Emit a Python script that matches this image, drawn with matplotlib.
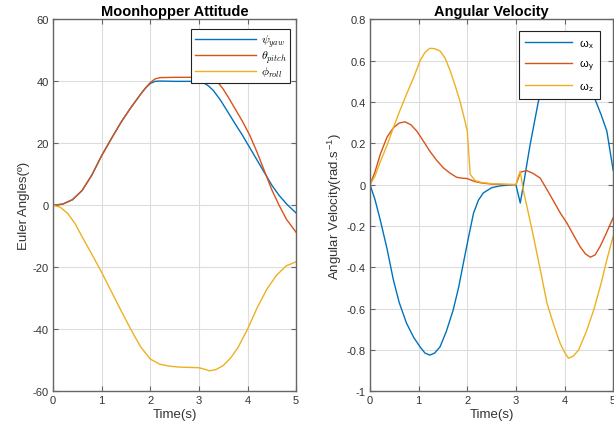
import numpy as np
import matplotlib
matplotlib.use('Agg')
import matplotlib.pyplot as plt

plt.rcParams['font.family'] = ['Liberation Sans', 'DejaVu Sans']
plt.rcParams['mathtext.fontset'] = 'cm'
plt.rcParams['axes.unicode_minus'] = False

# --- attitude (deg) ---
t_yaw = [0, 0.2, 0.4, 0.6, 0.8, 1.0, 1.2, 1.4, 1.6, 1.8, 1.9, 2.0, 2.1, 2.2, 2.5, 2.8, 3.0, 3.1,
         3.2, 3.3, 3.45, 3.6, 3.75, 3.9, 4.05, 4.2, 4.35, 4.5, 4.65, 4.8, 5.0]
yaw = [0, 0.4, 1.8, 4.8, 9.8, 16.0, 21.5, 26.8, 31.5, 35.8, 37.8, 39.3, 40.0, 40.1, 40.0, 40.0, 39.9, 39.5,
       38.5, 37.0, 33.8, 30.0, 26.2, 22.5, 18.5, 14.5, 10.5, 6.5, 3.2, 0.5, -2.5]

t_pitch = [0, 0.2, 0.4, 0.6, 0.8, 1.0, 1.2, 1.4, 1.6, 1.8, 1.9, 2.0, 2.1, 2.2, 2.5, 3.0, 3.2, 3.3,
           3.4, 3.5, 3.6, 3.75, 3.9, 4.05, 4.2, 4.35, 4.5, 4.65, 4.8, 5.0]
pitch = [0, 0.4, 1.8, 4.8, 9.8, 16.0, 21.5, 26.8, 31.5, 35.8, 37.8, 39.6, 40.8, 41.2, 41.3, 41.3, 41.2, 40.8,
         39.5, 37.5, 35.0, 31.0, 27.0, 22.5, 17.0, 11.0, 5.0, 0.0, -4.5, -8.7]

t_roll = [0, 0.15, 0.3, 0.45, 0.6, 0.8, 1.0, 1.2, 1.4, 1.6, 1.8, 2.0, 2.2, 2.4, 2.6, 2.8, 3.0, 3.1,
          3.22, 3.35, 3.5, 3.65, 3.8, 4.0, 4.2, 4.4, 4.6, 4.8, 5.0]
roll = [0, -0.6, -2.6, -5.8, -10.2, -15.8, -21.6, -27.8, -34.0, -40.0, -45.6, -49.6, -51.3, -51.9, -52.2,
        -52.3, -52.4, -52.8, -53.4, -53.0, -51.7, -49.3, -46.0, -40.0, -33.0, -27.0, -22.5, -19.5, -18.2]

# --- angular velocity (rad/s) ---
t_wx = [0, 0.1, 0.21, 0.35, 0.48, 0.6, 0.75, 0.9, 1.03, 1.13, 1.23, 1.33, 1.44, 1.57, 1.71, 1.82, 1.92,
        2.03, 2.13, 2.23, 2.33, 2.5, 2.67, 2.85, 3.0, 3.09, 3.17, 3.29, 3.46, 3.6, 3.8, 4.05, 4.3, 4.45,
        4.6, 4.75, 4.87, 5.0]
wx = [0, -0.07, -0.17, -0.31, -0.46, -0.57, -0.67, -0.74, -0.785, -0.815, -0.825, -0.815, -0.785, -0.71,
      -0.607, -0.50, -0.38, -0.25, -0.137, -0.075, -0.04, -0.015, -0.006, -0.002, 0.0, -0.089, 0.02, 0.19,
      0.40, 0.52, 0.62, 0.66, 0.62, 0.54, 0.43, 0.34, 0.26, 0.07]

t_wy = [0, 0.1, 0.21, 0.35, 0.48, 0.6, 0.72, 0.84, 0.96, 1.1, 1.23, 1.37, 1.51, 1.65, 1.78, 1.9, 1.99,
        2.08, 2.16, 2.3, 2.5, 2.75, 3.0, 3.05, 3.09, 3.22, 3.35, 3.5, 3.64, 3.8, 3.92, 4.05, 4.2, 4.32,
        4.43, 4.53, 4.63, 4.73, 4.85, 5.0]
wy = [0, 0.06, 0.146, 0.23, 0.275, 0.298, 0.304, 0.29, 0.26, 0.21, 0.162, 0.118, 0.081, 0.055, 0.036,
      0.031, 0.03, 0.022, 0.015, 0.008, 0.003, 0.001, 0.0, 0.03, 0.06, 0.068, 0.055, 0.032, -0.024, -0.09,
      -0.14, -0.186, -0.25, -0.30, -0.335, -0.351, -0.34, -0.30, -0.24, -0.16]

t_wz = [0, 0.1, 0.21, 0.35, 0.48, 0.6, 0.75, 0.9, 1.03, 1.13, 1.23, 1.33, 1.44, 1.55, 1.65, 1.75, 1.85,
        1.93, 2.0, 2.06, 2.16, 2.3, 2.5, 2.75, 3.0, 3.05, 3.09, 3.15, 3.25, 3.36, 3.5, 3.64, 3.78, 3.91,
        4.0, 4.08, 4.18, 4.29, 4.45, 4.6, 4.75, 4.87, 5.0]
wz = [0, 0.04, 0.11, 0.19, 0.275, 0.35, 0.437, 0.52, 0.60, 0.64, 0.66, 0.658, 0.647, 0.61, 0.55, 0.48,
      0.404, 0.33, 0.26, 0.05, 0.02, 0.01, 0.005, 0.002, 0.0, 0.04, 0.065, -0.024, -0.13, -0.25, -0.41,
      -0.574, -0.68, -0.768, -0.81, -0.84, -0.83, -0.80, -0.71, -0.607, -0.48, -0.364, -0.25]

blue, red, yellow = '#0072BD', '#D95319', '#EDB120'
axcol = '#666666'
txtcol = '#333333'


def style(ax):
    ax.grid(True, color='#dddddd', linewidth=0.8)
    ax.set_axisbelow(True)
    for s in ax.spines.values():
        s.set_color(axcol)
        s.set_linewidth(1.0)
    ax.tick_params(direction='in', length=3.5, width=0.8, color=axcol, labelcolor=txtcol,
                   labelsize=8, top=True, right=True, pad=3)
    ax.set_xlim(0, 5)
    ax.set_xticks(range(6))
    ax.set_xlabel('Time(s)', fontsize=9.5, color=txtcol, labelpad=2)


fig = plt.figure(figsize=(6.14, 4.35), dpi=100)

ax1 = fig.add_axes([0.0863, 0.0982, 0.396, 0.855])
ax1.plot(t_yaw, yaw, color=blue, lw=1.0, label=r'$\psi_{yaw}$')
ax1.plot(t_pitch, pitch, color=red, lw=1.0, label=r'$\theta_{pitch}$')
ax1.plot(t_roll, roll, color=yellow, lw=1.0, label=r'$\phi_{roll}$')
style(ax1)
ax1.set_ylim(-60, 60)
ax1.set_yticks(range(-60, 61, 20))
ax1.set_ylabel('Euler Angles(º)', fontsize=9.5, color=txtcol, labelpad=2)
ax1.set_title('Moonhopper Attitude', fontsize=10.5, fontweight='bold', pad=3)
leg1 = ax1.legend(loc='upper right', bbox_to_anchor=(0.975, 0.975), fontsize=8.5, handlelength=5.2,
                  borderaxespad=0, frameon=True, fancybox=False, edgecolor='#222222', framealpha=1,
                  labelspacing=0.0, borderpad=0.3, handletextpad=0.4)
leg1.get_frame().set_linewidth(0.8)

ax2 = fig.add_axes([0.6026, 0.0982, 0.396, 0.855])
ax2.plot(t_wx, wx, color=blue, lw=1.0, label=r'ω$_{\mathregular{x}}$')
ax2.plot(t_wy, wy, color=red, lw=1.0, label=r'ω$_{\mathregular{y}}$')
ax2.plot(t_wz, wz, color=yellow, lw=1.0, label=r'ω$_{\mathregular{z}}$')
style(ax2)
ax2.set_ylim(-1, 0.8)
ax2.set_yticks(np.round(np.arange(-1, 0.81, 0.2), 1))
ax2.set_yticklabels(['-1', '-0.8', '-0.6', '-0.4', '-0.2', '0', '0.2', '0.4', '0.6', '0.8'])
ax2.set_ylabel(r'Angular Velocity(rad.s$^{\mathregular{-1}}$)', fontsize=9.5, color=txtcol, labelpad=2)
ax2.set_title('Angular Velocity', fontsize=10.5, fontweight='bold', pad=3)
leg2 = ax2.legend(loc='upper right', bbox_to_anchor=(0.947, 0.968), fontsize=8, handlelength=4.3,
                  borderaxespad=0, frameon=True, fancybox=False, edgecolor='#222222', framealpha=1,
                  labelspacing=0.65, borderpad=0.55, handletextpad=0.6)
leg2.get_frame().set_linewidth(0.8)

fig.savefig('out.png', dpi=100)
